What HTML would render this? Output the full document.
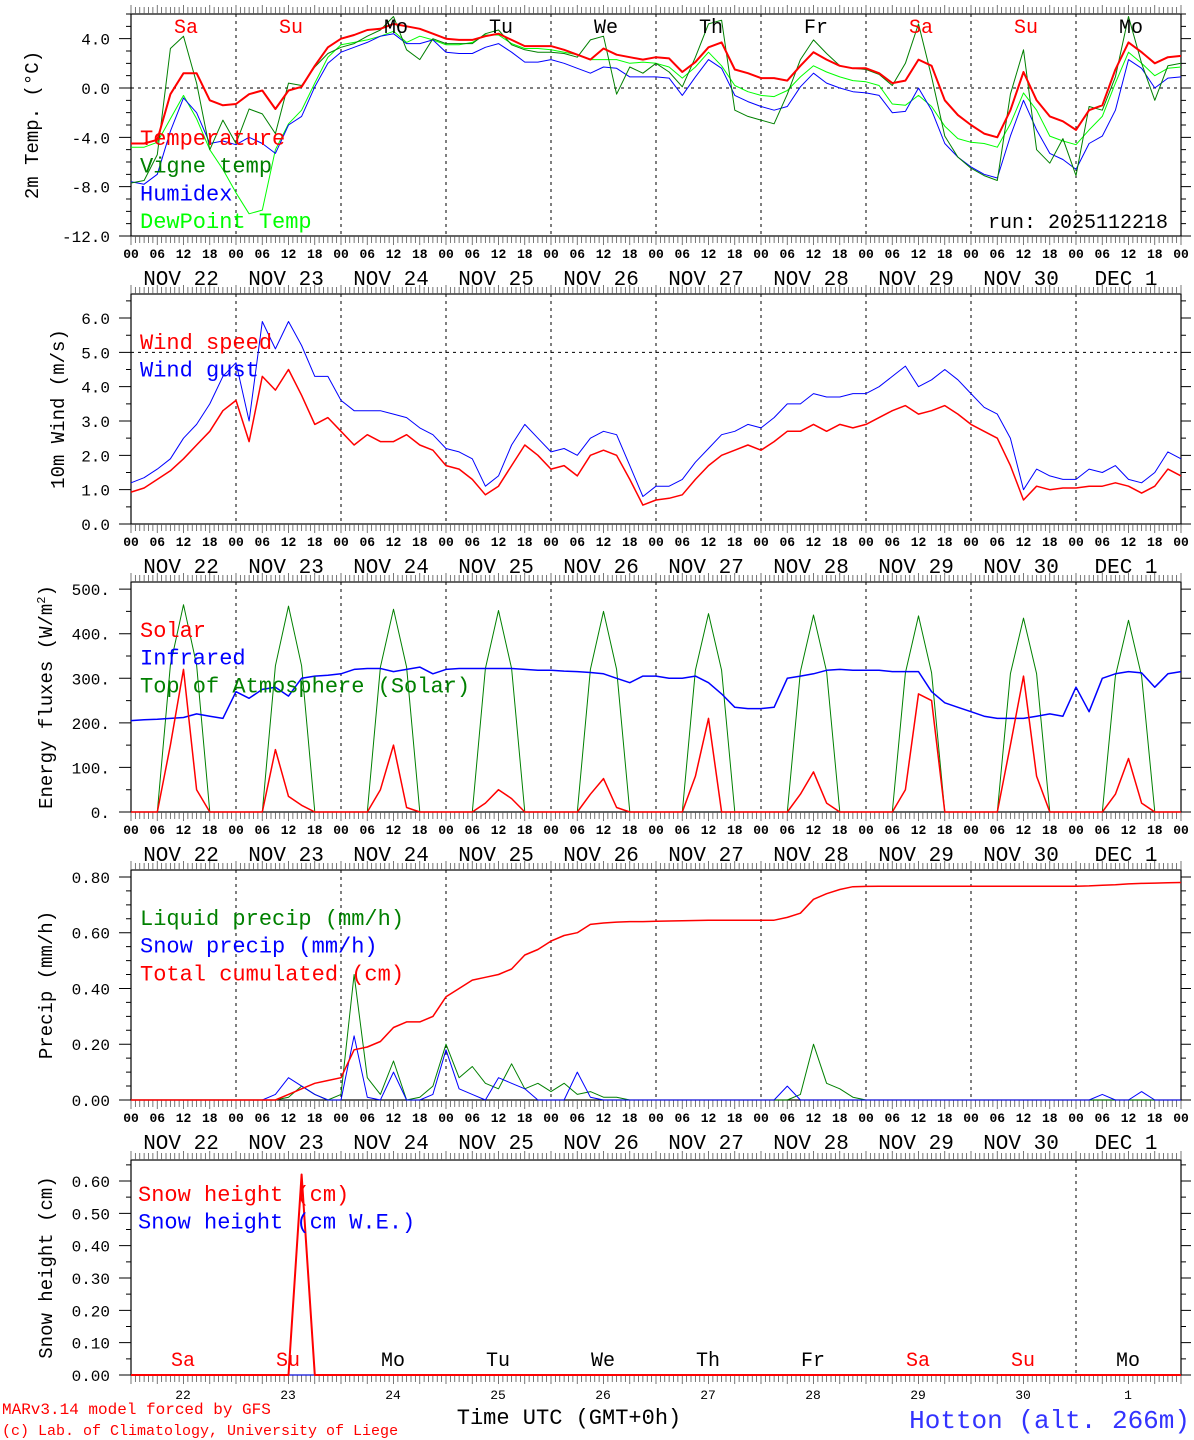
<!DOCTYPE html>
<html><head><meta charset="utf-8">
<style>
body{margin:0;background:#fff;}
svg{display:block;font-family:"Liberation Mono","DejaVu Sans Mono",monospace;}
</style></head>
<body>
<svg id="chart" width="1194" height="1440" viewBox="0 0 1194 1440" xmlns="http://www.w3.org/2000/svg"></svg>
<script>
// ---- data (3-hourly from NOV 22 00 UTC, 81 points) ----
const dayLabels = ["NOV 22","NOV 23","NOV 24","NOV 25","NOV 26","NOV 27","NOV 28","NOV 29","NOV 30","DEC  1"];
const dayNames = ["Sa","Su","Mo","Tu","We","Th","Fr","Sa","Su","Mo"];
const dayNums = ["22","23","24","25","26","27","28","29","30","1"];
const hourLabels = ["00","06","12","18"];
const temperature = [-4.5,-4.5,-4.2,-0.5,1.2,1.2,-1.0,-1.4, -1.3,-0.5,-0.2,-1.7,-0.2,0.1,1.8,3.3, 4.0,4.3,4.7,4.8,5.2,5.0,4.8,4.4, 4.0,3.9,3.9,4.2,4.4,3.9,3.4,3.4, 3.4,3.1,2.7,2.3,3.2,2.7,2.5,2.3, 2.5,2.4,1.3,2.1,3.3,3.7,1.5,1.2, 0.8,0.8,0.6,1.8,2.9,2.3,1.8,1.6, 1.6,1.2,0.4,0.6,2.3,1.8,-1.0,-2.2, -3.0,-3.7,-4.0,-1.8,1.3,-1.0,-2.3,-2.7, -3.4,-1.8,-1.4,1.5,3.7,2.9,2.0,2.5,2.6];
const vigne = [-7.7,-7.5,-5.4,3.2,4.2,0.4,-5.0,-2.6, -4.5,-1.7,-2.1,-3.7,0.4,0.2,1.7,2.8, 3.3,3.6,4.2,4.7,5.8,3.1,2.3,4.0, 3.6,3.6,3.6,4.4,4.7,3.5,3.1,2.9, 2.9,2.8,2.5,3.9,4.2,-0.5,1.7,1.2, 2.0,1.3,0.1,2.5,5.2,5.5,-1.8,-2.3, -2.6,-2.9,-0.5,2.3,3.9,2.8,1.8,1.6, 1.5,1.1,0.2,2.0,5.2,0.9,-3.9,-5.6, -6.5,-7.1,-7.5,-0.5,3.1,-5.0,-6.1,-4.1, -7.1,-1.5,-1.8,0.9,5.8,2.0,-1.0,1.8,2.0];
const humidex = [-7.6,-7.8,-7.0,-3.5,-0.8,-2.0,-4.5,-4.3, -4.6,-4.0,-4.5,-5.3,-3.0,-2.3,0.1,2.0, 2.9,3.3,3.7,4.2,4.4,3.6,3.6,3.9, 2.9,2.8,2.8,3.3,3.6,2.9,2.1,2.1, 2.3,2.0,1.6,1.2,1.7,1.6,0.9,0.9, 0.9,0.8,-0.6,0.9,2.3,1.6,-0.6,-1.1, -1.5,-1.8,-1.5,0.1,1.2,0.4,0.0,-0.3, -0.4,-0.6,-2.0,-1.9,0.0,-1.8,-4.5,-5.6, -6.4,-7.0,-7.3,-3.9,-1.0,-3.4,-5.3,-5.8, -6.6,-4.5,-3.9,-1.8,2.3,1.6,0.0,0.8,0.9];
const dewpoint = [-4.8,-4.8,-4.4,-2.5,-0.6,-2.5,-5.0,-6.6, -8.5,-10.2,-9.9,-5.0,-2.9,-1.8,0.4,2.5, 3.5,3.7,3.9,4.2,4.6,3.7,4.2,3.9, 3.5,3.5,3.7,4.3,4.3,3.6,3.2,3.2, 3.1,2.9,2.7,2.3,2.3,2.3,2.0,2.1, 2.0,1.7,0.8,1.7,2.9,1.8,0.2,-0.3, -0.6,-0.7,-0.2,0.9,1.8,1.3,0.9,0.6, 0.5,0.2,-1.3,-1.4,-0.6,-1.5,-3.1,-4.1, -4.4,-4.5,-4.8,-2.9,-0.4,-1.8,-3.9,-4.3, -4.6,-3.4,-2.3,0.4,2.9,2.0,1.0,1.6,1.7];
const windSpeed = [0.93,1.05,1.3,1.55,1.9,2.3,2.7,3.3, 3.6,2.4,4.3,3.9,4.5,3.75,2.9,3.1, 2.7,2.3,2.6,2.4,2.4,2.6,2.3,2.15, 1.7,1.6,1.3,0.85,1.1,1.7,2.3,2.0, 1.6,1.7,1.4,2.0,2.15,2.0,1.3,0.55, 0.7,0.75,0.85,1.3,1.7,2.0,2.15,2.3, 2.15,2.4,2.7,2.7,2.9,2.7,2.9,2.8, 2.9,3.1,3.3,3.45,3.2,3.3,3.45,3.2, 2.9,2.7,2.5,1.7,0.7,1.1,1.0,1.05, 1.05,1.1,1.1,1.2,1.1,0.9,1.1,1.6,1.4];
const windGust = [1.2,1.35,1.6,1.9,2.5,2.9,3.5,4.3, 4.7,3.0,5.9,5.1,5.9,5.2,4.3,4.3, 3.6,3.3,3.3,3.3,3.2,3.1,2.8,2.6, 2.2,2.1,1.9,1.1,1.4,2.3,2.9,2.5, 2.1,2.2,2.0,2.5,2.7,2.6,1.7,0.8, 1.1,1.1,1.3,1.8,2.2,2.6,2.7,2.9, 2.8,3.1,3.5,3.5,3.8,3.7,3.7,3.8, 3.8,4.0,4.3,4.6,4.0,4.2,4.5,4.2, 3.8,3.4,3.2,2.5,1.0,1.6,1.4,1.3, 1.3,1.6,1.5,1.7,1.3,1.2,1.5,2.1,1.9];
const solar = [0,0,0,150,320,50,0,0, 0,0,0,140,35,15,0,0, 0,0,0,50,150,10,0,0, 0,0,0,20,50,30,0,0, 0,0,0,40,75,10,0,0, 0,0,0,80,210,0,0,0, 0,0,0,40,90,20,0,0, 0,0,0,50,265,250,0,0, 0,0,0,150,305,80,0,0, 0,0,0,40,120,20,0,0,0];
const infrared = [205,207,208,210,212,220,215,210, 270,255,275,280,260,300,305,307, 310,320,322,322,315,320,325,310, 320,322,322,322,322,322,320,318, 318,316,315,313,310,300,290,305, 305,300,300,305,290,265,235,232, 232,235,300,305,310,318,320,318, 318,318,315,315,315,270,245,235, 225,215,210,210,210,215,220,215, 280,225,300,310,315,312,280,310,315];
const toaSolar = [0,0,0,330,465,330,0,0, 0,0,0,328,462,328,0,0, 0,0,0,325,455,325,0,0, 0,0,0,322,452,322,0,0, 0,0,0,320,450,320,0,0, 0,0,0,318,445,318,0,0, 0,0,0,315,442,315,0,0, 0,0,0,312,440,312,0,0, 0,0,0,310,435,310,0,0, 0,0,0,305,430,305,0,0,0];
const liquidPrecip = [0,0,0,0,0,0,0,0, 0,0,0,0,0.01,0.05,0.02,0, 0.02,0.45,0.08,0.02,0.14,0,0.01,0.05, 0.2,0.08,0.12,0.06,0.04,0.13,0.04,0.06, 0.03,0.06,0.02,0.03,0.01,0.01,0,0, 0,0,0,0,0,0,0,0, 0,0,0,0.02,0.2,0.06,0.04,0.01, 0,0,0,0,0,0,0,0, 0,0,0,0,0,0,0,0, 0,0,0,0,0,0,0,0,0];
const snowPrecip = [0,0,0,0,0,0,0,0, 0,0,0,0.02,0.08,0.05,0.02,0, 0,0.23,0.01,0,0.1,0,0,0.02, 0.18,0.04,0.02,0,0.08,0.06,0.04,0, 0,0,0.1,0.01,0,0,0,0, 0,0,0,0,0,0,0,0, 0,0,0.05,0,0,0,0,0, 0,0,0,0,0,0,0,0, 0,0,0,0,0,0,0,0, 0,0,0.02,0,0,0.03,0,0,0];
const totalCum = [0,0,0,0,0,0,0,0, 0,0,0,0,0.02,0.04,0.06,0.07, 0.08,0.18,0.19,0.21,0.26,0.28,0.28,0.30, 0.37,0.40,0.43,0.44,0.45,0.47,0.52,0.54, 0.57,0.59,0.60,0.63,0.635,0.638,0.64,0.64, 0.641,0.642,0.643,0.644,0.645,0.645,0.645,0.645, 0.645,0.645,0.655,0.67,0.72,0.74,0.755,0.765, 0.766,0.767,0.767,0.767,0.767,0.767,0.767,0.767, 0.767,0.767,0.767,0.767,0.767,0.767,0.767,0.767, 0.767,0.768,0.77,0.772,0.775,0.777,0.778,0.779,0.78];
const snowHeight = [0,0,0,0,0,0,0,0, 0,0,0,0,0,0.62,0,0, 0,0,0,0,0,0,0,0, 0,0,0,0,0,0,0,0, 0,0,0,0,0,0,0,0, 0,0,0,0,0,0,0,0, 0,0,0,0,0,0,0,0, 0,0,0,0,0,0,0,0, 0,0,0,0,0,0,0,0, 0,0,0,0,0,0,0,0,0];
const snowHeightWE = [0,0,0,0,0,0,0,0, 0,0,0,0,0,0,0,0, 0,0,0,0,0,0,0,0, 0,0,0,0,0,0,0,0, 0,0,0,0,0,0,0,0, 0,0,0,0,0,0,0,0, 0,0,0,0,0,0,0,0, 0,0,0,0,0,0,0,0, 0,0,0,0,0,0,0,0, 0,0,0,0,0,0,0,0,0];

const svg = document.getElementById('chart');
const NS = 'http://www.w3.org/2000/svg';
const X0 = 131, X1 = 1181;
function xs(i){ return X0 + i * (X1 - X0) / 80; }
function mk(tag, attrs, parent){
  const e = document.createElementNS(NS, tag);
  for (const k in attrs) e.setAttribute(k, attrs[k]);
  (parent || svg).appendChild(e);
  return e;
}
function txt(s, x, y, size, color, anchor, parent){
  const t = mk('text', {x:x, y:y, 'font-size':size, fill:color, 'text-anchor':anchor||'start'}, parent);
  t.textContent = s;
  return t;
}

function panel(name, top, bottom, ymin, ymax, ticks, fmt, minorStep, title, titleX, opts){
  const g = mk('g', {});
  
  
  const ys = v => bottom - (v - ymin) / (ymax - ymin) * (bottom - top);
  for (let d = 1; d < 10; d++) {
    if (opts.onlyLastDayLine && d !== 9) continue;
    const x = X0 + d * 105;
    const l = mk('line', {x1:x, y1:top, x2:x, y2:bottom, stroke:'#000', 'stroke-width':1, 'stroke-dasharray':'3,4'}, g);
    
    
  }
  if (opts.hline !== undefined) {
    const l = mk('line', {x1:X0, y1:ys(opts.hline), x2:X1, y2:ys(opts.hline), stroke:'#000', 'stroke-width':1, 'stroke-dasharray':'3,4'}, g);
    
    
  }
  const fr = mk('rect', {x:X0, y:top, width:X1-X0, height:bottom-top, fill:'none', stroke:'#000', 'stroke-width':1.2}, g);
  
  
  let d = '';
  for (let h = 0; h <= 240; h++) {
    const x = X0 + h * 105 / 24;
    const len = (h % 6 === 0) ? 9 : 7;
    d += `M${x},${top}v${-len}M${x},${bottom}v${len}`;
  }
  mk('path', {d:d, stroke:'#555', 'stroke-width':0.8, fill:'none'}, g);
  let yd = '';
  for (let v = ymin; v <= ymax + 1e-9; v += minorStep) {
    const y = ys(v);
    yd += `M${X0},${y}h-5M${X1},${y}h5`;
  }
  ticks.forEach(v => { const y = ys(v); yd += `M${X0-12},${y}h12M${X1},${y}h10`; });
  mk('path', {d:yd, stroke:'#000', 'stroke-width':1, fill:'none'}, g);
  ticks.forEach(v => {
    const t = txt(fmt(v), 110, ys(v) + 6, 16, '#000', 'end', g);
    
    
  });
  const yc = (top + bottom) / 2;
  const tt = mk('text', {x:titleX, y:yc, 'font-size':19, fill:'#000', 'text-anchor':'middle', transform:`rotate(-90 ${titleX} ${yc})`}, g);
  tt.innerHTML = title;
  
  
  if (!opts.noXLabels) {
    for (let dd = 0; dd < 10; dd++) {
      hourLabels.forEach((hl, k) => {
        const t = txt(hl, X0 + dd*105 + k*26.25, bottom + 22, 13, '#000', 'middle', g);
        t.setAttribute('font-weight', 'bold');
        
        
      });
      const dl = txt(dayLabels[dd], X0 + dd*105 + 50, bottom + 49, 21, '#000', 'middle', g);
      
      
    }
    const t = txt('00', X1, bottom + 22, 13, '#000', 'middle', g);
    t.setAttribute('font-weight', 'bold');
    
    
  }
  return {g, ys};
}
function series(p, arr, color, width, name){
  const pts = arr.map((v, i) => `${xs(i).toFixed(1)},${p.ys(v).toFixed(1)}`).join(' ');
  const pl = mk('polyline', {points:pts, fill:'none', stroke:color, 'stroke-width':width, 'stroke-linejoin':'round'}, p.g);
  
  
}
function legend(p, items, x, y0){
  items.forEach((it, k) => {
    const t = txt(it[0], x, y0 + k*27.7, 22, it[1], 'start', p.g);
    
    
  });
}

const p1 = panel('temperature-panel', 14, 236, -12, 6, [4,0,-4,-8,-12], v => v.toFixed(1), 1, '2m Temp. (°C)', 38, {hline:0});
series(p1, dewpoint, '#00ff00', 1, 'dewpoint-line');
series(p1, humidex, '#0000ff', 1, 'humidex-line');
series(p1, vigne, '#008000', 1, 'vigne-temp-line');
series(p1, temperature, '#ff0000', 2, 'temperature-line');
legend(p1, [['Temperature','#ff0000'],['Vigne temp','#008000'],['Humidex','#0000ff'],['DewPoint Temp','#00ff00']], 140, 145);
dayNames.forEach((n, k) => {
  const red = (n === 'Sa' || n === 'Su');
  const t = txt(n, X0 + k*105 + 55, 33, 20, red ? '#ff0000' : '#000', 'middle', p1.g);
  
  
});
const run = txt('run: 2025112218', 1168, 228, 20, '#000', 'end', p1.g);



const p2 = panel('wind-panel', 294, 524, 0, 6.7, [0,1,2,3,4,5,6], v => v.toFixed(1), 0.5, '10m Wind (m/s)', 64, {hline:5});
series(p2, windGust, '#0000ff', 1, 'wind-gust-line');
series(p2, windSpeed, '#ff0000', 1.5, 'wind-speed-line');
legend(p2, [['Wind speed','#ff0000'],['Wind gust','#0000ff']], 140, 349);

const p3 = panel('energy-panel', 582, 812, 0, 516, [0,100,200,300,400,500], v => v + '.', 50, 'Energy fluxes (W/m<tspan font-size="12" dy="-7">2</tspan><tspan dy="7">)</tspan>', 52, {});
series(p3, toaSolar, '#008000', 1, 'toa-solar-line');
series(p3, infrared, '#0000ff', 1.5, 'infrared-line');
series(p3, solar, '#ff0000', 1.5, 'solar-line');
legend(p3, [['Solar','#ff0000'],['Infrared','#0000ff'],['Top of Atmosphere (Solar)','#008000']], 140, 637);

const p4 = panel('precip-panel', 870, 1100, 0, 0.825, [0,0.2,0.4,0.6,0.8], v => v.toFixed(2), 0.05, 'Precip (mm/h)', 52, {});
series(p4, liquidPrecip, '#008000', 1, 'liquid-precip-line');
series(p4, snowPrecip, '#0000ff', 1, 'snow-precip-line');
series(p4, totalCum, '#ff0000', 1.5, 'total-cumulated-line');
legend(p4, [['Liquid precip (mm/h)','#008000'],['Snow precip (mm/h)','#0000ff'],['Total cumulated (cm)','#ff0000']], 140, 925);

const p5 = panel('snow-panel', 1160, 1375, 0, 0.665, [0,0.1,0.2,0.3,0.4,0.5,0.6], v => v.toFixed(2), 0.05, 'Snow height (cm)', 52, {onlyLastDayLine:true, noXLabels:true});
series(p5, snowHeightWE, '#0000ff', 1, 'snow-height-we-line');
series(p5, snowHeight, '#ff0000', 2, 'snow-height-line');
legend(p5, [['Snow height (cm)','#ff0000'],['Snow height (cm W.E.)','#0000ff']], 138, 1201);
dayNames.forEach((n, k) => {
  const red = (n === 'Sa' || n === 'Su');
  const t = txt(n, X0 + k*105 + 52, 1366, 20, red ? '#ff0000' : '#000', 'middle', p5.g);
  
  
  const n2 = txt(dayNums[k], X0 + k*105 + 52, 1399, 13, '#000', 'middle', p5.g);
  
  
});

const xt = txt('Time UTC (GMT+0h)', 569, 1424, 22, '#000', 'middle');


const c1 = txt('MARv3.14 model forced by GFS', 2, 1414, 16, '#ff0000', 'start');


const c2 = txt('(c) Lab. of Climatology, University of Liege', 2, 1435, 15, '#ff0000', 'start');


const st = txt('Hotton (alt. 266m)', 1190, 1428, 26, '#3333ff', 'end');


</script>
</body></html>
